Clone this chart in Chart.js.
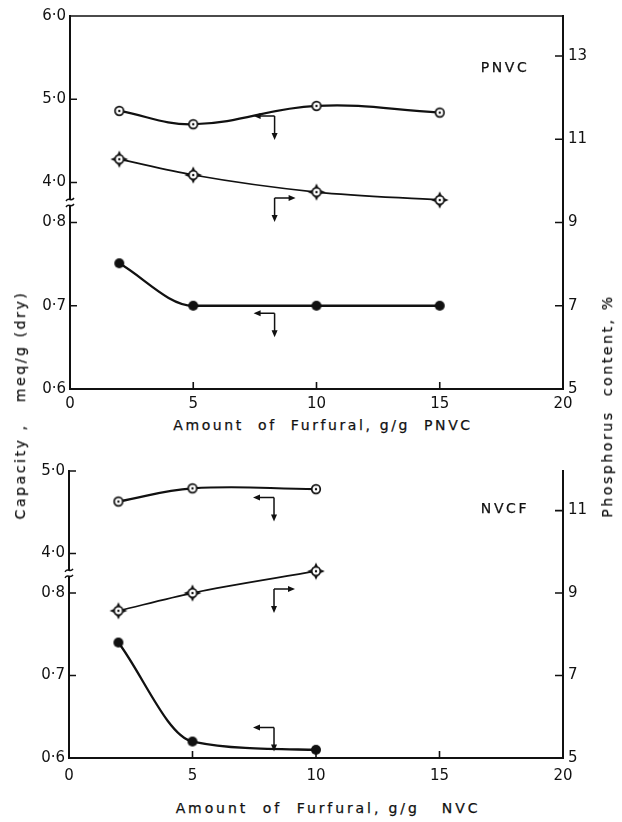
<!DOCTYPE html>
<html>
<head>
<meta charset="utf-8">
<script src="https://cdn.jsdelivr.net/npm/chart.js@4.4.1/dist/chart.umd.min.js"></script>
<style>
  html, body { margin: 0; padding: 0; background: #fff; }
  #wrap { position: relative; width: 622px; height: 822px; overflow: hidden;
          font-family: "DejaVu Sans", sans-serif; color: #111; }
  #wrap canvas { position: absolute; left: 0; }
  #cTop { top: 0; }
  #cBot { top: 440px; }
  .lbl { position: absolute; white-space: pre; font-size: 14px; letter-spacing: 2.6px;
         -webkit-text-stroke: 0.25px #111; transform: translate(-50%, -50%); }
  .vert { transform: translate(-50%, -50%) rotate(-90deg); }
</style>
</head>
<body>
<div id="wrap">
  <canvas id="cTop" width="622" height="412"></canvas>
  <canvas id="cBot" width="622" height="350"></canvas>
  <div class="lbl" style="left:505px; top:67px;">PNVC</div>
  <div class="lbl" style="left:505px; top:508px;">NVCF</div>
  <div class="lbl" style="left:323px; top:425px;">Amount  of  Furfural, g/g  PNVC</div>
  <div class="lbl" style="left:328px; top:808px; letter-spacing:2.9px;">Amount  of  Furfural, g/g   NVC</div>
  <div class="lbl vert" style="left:20px; top:405px;">Capacity ,   meq/g (dry)</div>
  <div class="lbl vert" style="left:607px; top:406px;">Phosphorus  content, %</div>
</div>
<script>
"use strict";
const ink = "#111";

// PNVC panel
const furfuralPNVC = [2, 5, 10, 15];
const capHighPNVC  = [4.86, 4.70, 4.92, 4.84];
const phosPNVC     = [10.52, 10.14, 9.73, 9.54];
const capLowPNVC   = [0.751, 0.700, 0.700, 0.700];

// NVCF panel
const furfuralNVC = [2, 5, 10];
const capHighNVC  = [4.63, 4.79, 4.78];
const phosNVC     = [8.57, 9.00, 9.53];
const capLowNVC   = [0.740, 0.620, 0.610];

// axis ticks
const xTicks        = [0, 5, 10, 15, 20];
const capTicksPNVC  = [0.6, 0.7, 0.8, 4.0, 5.0, 6.0];
const capTicksNVC   = [0.6, 0.7, 0.8, 4.0, 5.0];
const phosTicksPNVC = [5, 7, 9, 11, 13];
const phosTicksNVC  = [5, 7, 9, 11];

// which axis each arrow points to: corner at (x, value on that axis)
const arrowsPNVC = [
  { x: 8.3, v: 4.80, axis: "y",  dir: "left" },
  { x: 8.3, v: 9.59, axis: "y2", dir: "right" },
  { x: 8.3, v: 0.691, axis: "y", dir: "left" }
];
const arrowsNVC = [
  { x: 8.3, v: 4.68, axis: "y",  dir: "left" },
  { x: 8.3, v: 9.10, axis: "y2", dir: "right" },
  { x: 8.3, v: 0.637, axis: "y", dir: "left" }
];

/* capacity axis is broken: 0.6–0.8 runs one band unit per 0.1,
   then a short gap, then 4.0 upward at one band unit per 1.0 */
const GAP = 0.48;
const band = v => v < 2 ? (v - 0.6) * 10 : 2 + GAP + (v - 4);
const fmt = v => v.toFixed(1).replace(".", "·");
const pts = (xs, ys, f) => xs.map((x, i) => ({ x, y: f ? f(ys[i]) : ys[i] }));

function marker(kind){
  const r = 4.3, s = 22, c = document.createElement("canvas");
  c.width = c.height = s;
  const g = c.getContext("2d"), m = s / 2;
  g.strokeStyle = ink; g.fillStyle = ink; g.lineWidth = 1.7;
  if(kind === "solid"){
    g.beginPath(); g.arc(m, m, 5, 0, Math.PI * 2); g.fill();
    return c;
  }
  if(kind === "star"){
    [[0, -1], [1, 0], [0, 1], [-1, 0]].forEach(([dx, dy]) => {
      g.beginPath();
      g.moveTo(m + dx * (r + 4.5), m + dy * (r + 4.5));
      g.lineTo(m + dx * r + dy * 2, m + dy * r + dx * 2);
      g.lineTo(m + dx * r - dy * 2, m + dy * r - dx * 2);
      g.closePath(); g.fill();
    });
  }
  g.fillStyle = "#fff";
  g.beginPath(); g.arc(m, m, r, 0, Math.PI * 2); g.fill(); g.stroke();
  g.fillStyle = ink;
  g.beginPath(); g.arc(m, m, 1.2, 0, Math.PI * 2); g.fill();
  return c;
}
const ringMark = marker("ring"), starMark = marker("star"), dotMark = marker("solid");

function head(ctx, x, y, dx, dy){
  ctx.beginPath();
  ctx.moveTo(x, y);
  ctx.lineTo(x - dx * 7 - dy * 3, y - dy * 7 - dx * 3);
  ctx.lineTo(x - dx * 7 + dy * 3, y - dy * 7 + dx * 3);
  ctx.closePath(); ctx.fill();
}

const decor = {
  id: "decor",
  afterDraw(chart, args, o){
    const { ctx, chartArea: a, scales } = chart;
    const { x, y, y2 } = scales;
    ctx.save();
    ctx.strokeStyle = ink; ctx.fillStyle = ink; ctx.lineWidth = 1.6;
    ctx.beginPath();
    x.ticks.forEach(t => { const p = x.getPixelForValue(t.value); ctx.moveTo(p, a.bottom); ctx.lineTo(p, a.bottom - 7); });
    y.ticks.forEach(t => { const p = y.getPixelForValue(t.value); ctx.moveTo(a.left, p); ctx.lineTo(a.left + 7, p); });
    y2.ticks.forEach(t => { const p = y2.getPixelForValue(t.value); ctx.moveTo(a.right, p); ctx.lineTo(a.right - 8, p); });
    if(o.frameTop){ ctx.moveTo(a.left - 1, a.top); ctx.lineTo(a.right + 1, a.top); }
    ctx.stroke();

    // break on the capacity axis
    const yb = y.getPixelForValue(2 + GAP / 2);
    ctx.fillStyle = "#fff";
    ctx.fillRect(a.left - 3, yb - 3, 6, 6);
    ctx.lineWidth = 1.4;
    [-3, 3].forEach(d => {
      ctx.beginPath();
      ctx.moveTo(a.left - 4, yb + d + 1.5);
      ctx.bezierCurveTo(a.left - 1, yb + d - 3, a.left + 1, yb + d + 3, a.left + 4, yb + d - 1.5);
      ctx.stroke();
    });

    // arrows telling which axis a curve is read on
    ctx.fillStyle = ink; ctx.lineWidth = 1.5;
    o.arrows.forEach(ar => {
      const cx = x.getPixelForValue(ar.x);
      const cy = ar.axis === "y" ? y.getPixelForValue(band(ar.v)) : y2.getPixelForValue(ar.v);
      const hx = ar.dir === "left" ? cx - 21 : cx + 21, sx = ar.dir === "left" ? -1 : 1;
      ctx.beginPath();
      ctx.moveTo(cx, cy); ctx.lineTo(hx - sx * 3, cy);
      ctx.moveTo(cx, cy); ctx.lineTo(cx, cy + 20);
      ctx.stroke();
      head(ctx, hx, cy, sx, 0);
      head(ctx, cx, cy + 24, 0, 1);
    });
    ctx.restore();
  }
};

function panel(id, d){
  const tickFont = { family: "DejaVu Sans", size: 15 };
  const bandMax = band(d.capTicks[d.capTicks.length - 1]);
  return new Chart(document.getElementById(id), {
    type: "line",
    data: { datasets: [
      { data: pts(d.xs, d.capHigh, band), yAxisID: "y", tension: 0.4,
        pointStyle: ringMark, borderWidth: 2.2 },
      { data: pts(d.xs, d.phos), yAxisID: "y2", cubicInterpolationMode: "monotone",
        pointStyle: starMark, borderWidth: 1.7 },
      { data: pts(d.xs, d.capLow, band), yAxisID: "y", cubicInterpolationMode: "monotone",
        pointStyle: dotMark, borderWidth: 2.3 }
    ]},
    options: {
      responsive: false, animation: false, devicePixelRatio: 1,
      layout: { padding: { top: d.padTop, right: 0, bottom: 0, left: 0 } },
      elements: { line: { borderColor: ink }, point: { radius: 5 } },
      plugins: { legend: { display: false }, tooltip: { enabled: false },
                 decor: { frameTop: d.frameTop, arrows: d.arrows } },
      scales: {
        x: { type: "linear", min: 0, max: 20,
             afterFit: s => { s.height = d.xHeight; },
             afterBuildTicks: s => { s.ticks = xTicks.map(v => ({ value: v })); },
             grid: { display: false, drawTicks: false },
             border: { display: true, color: ink, width: 2 },
             ticks: { color: ink, font: tickFont, padding: d.xPad, maxRotation: 0 } },
        y: { position: "left", min: 0, max: bandMax,
             afterFit: s => { s.width = d.left; },
             afterBuildTicks: s => { s.ticks = d.capTicks.map(v => ({ value: band(v) })); },
             grid: { display: false, drawTicks: false },
             border: { display: true, color: ink, width: 2 },
             ticks: { color: ink, font: tickFont, padding: 4, callback: (v, i) => fmt(d.capTicks[i]) } },
        y2: { position: "right", min: 5, max: 5 + 2 * bandMax,
              afterFit: s => { s.width = 622 - 563; },
              afterBuildTicks: s => { s.ticks = d.phosTicks.map(v => ({ value: v })); },
              grid: { display: false, drawTicks: false },
              border: { display: true, color: ink, width: 2 },
              ticks: { color: ink, font: tickFont, padding: 5 } }
      }
    },
    plugins: [decor]
  });
}

panel("cTop", { xs: furfuralPNVC, capHigh: capHighPNVC, phos: phosPNVC, capLow: capLowPNVC,
  capTicks: capTicksPNVC, phosTicks: phosTicksPNVC, arrows: arrowsPNVC,
  padTop: 16, xHeight: 23, xPad: 6, left: 70, frameTop: true });
panel("cBot", { xs: furfuralNVC, capHigh: capHighNVC, phos: phosNVC, capLow: capLowNVC,
  capTicks: capTicksNVC, phosTicks: phosTicksNVC, arrows: arrowsNVC,
  padTop: 31, xHeight: 32, xPad: 9, left: 69, frameTop: false });
</script>
</body>
</html>
